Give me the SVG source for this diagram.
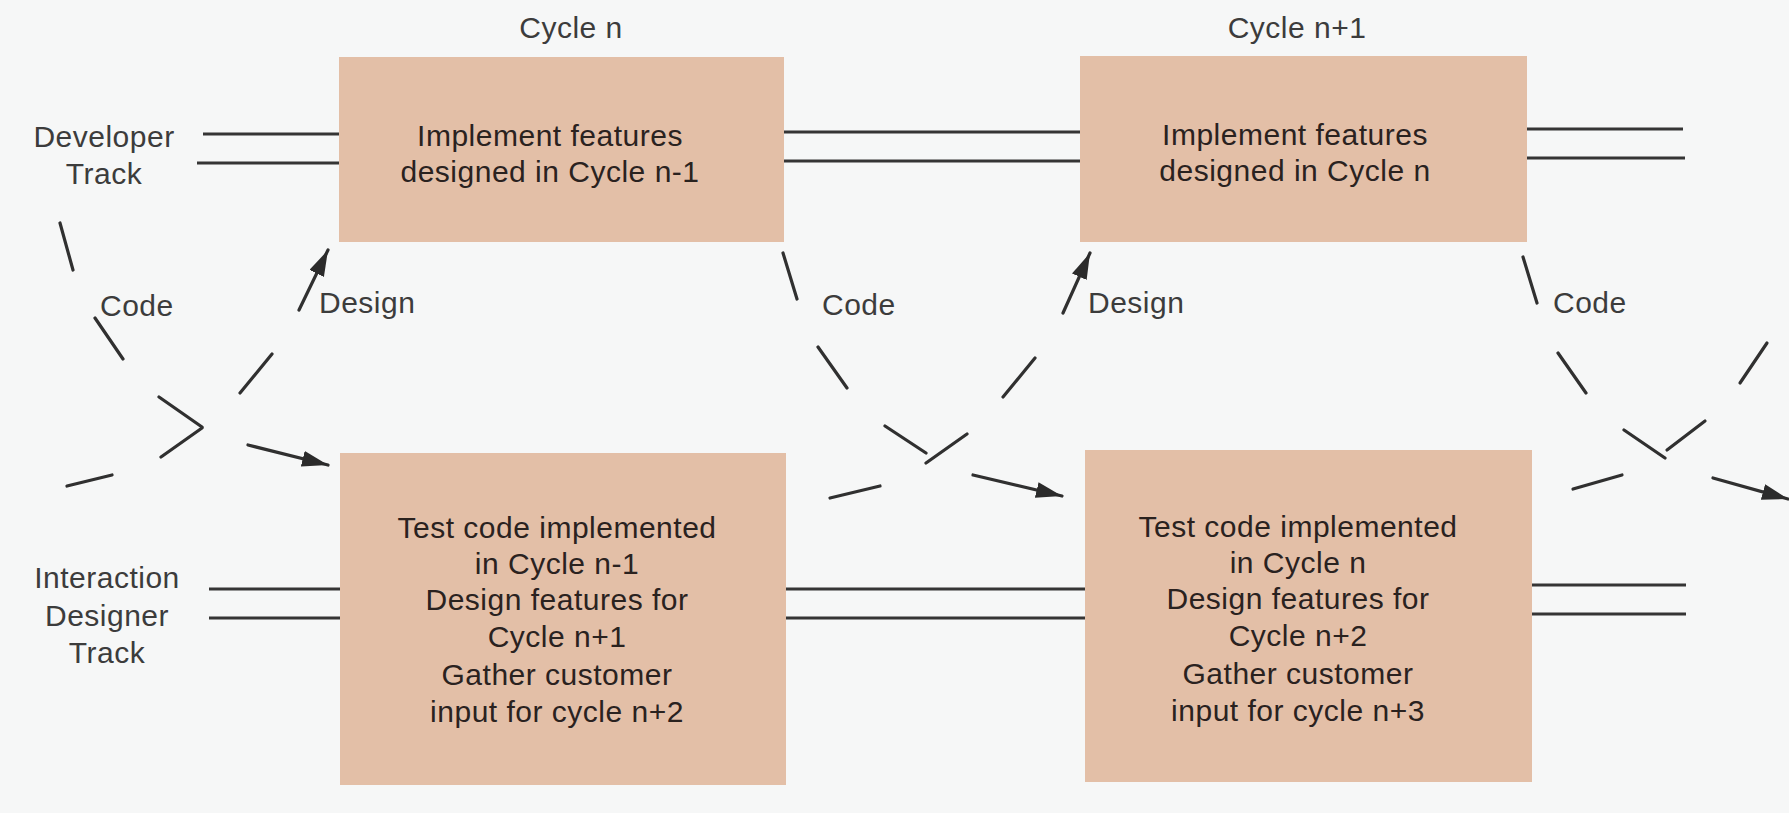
<svg xmlns="http://www.w3.org/2000/svg" width="1789" height="813" viewBox="0 0 1789 813">
<style>
.t{font-family:"Liberation Sans",Arial,sans-serif;font-size:30px;letter-spacing:0.5px;fill:#3c3c3c}
.bt{font-family:"Liberation Sans",Arial,sans-serif;font-size:30px;letter-spacing:0.5px;fill:#2a221f;text-anchor:middle}
.c{text-anchor:middle}
.box{fill:#e3bfa7}
.track{stroke:#353535;stroke-width:3;fill:none}
.dash{stroke:#303030;stroke-width:3.2;fill:none;stroke-linecap:round}
</style>
<defs>
<marker id="ah" markerUnits="userSpaceOnUse" markerWidth="28" markerHeight="18" refX="26" refY="8" orient="auto">
<path d="M0,0 L26,8 L0,16 z" fill="#2b2b2b"/>
</marker>
</defs>
<rect width="1789" height="813" fill="#f6f7f7"/>

<g id="labels">
<text class="t c" x="571" y="38">Cycle n</text>
<text class="t c" x="1297" y="38">Cycle n+1</text>
<text class="t c" x="104" y="147">Developer</text>
<text class="t c" x="104" y="184">Track</text>
<text class="t c" x="107" y="588">Interaction</text>
<text class="t c" x="107" y="626">Designer</text>
<text class="t c" x="107" y="663">Track</text>
<text class="t" x="100" y="316">Code</text>
<text class="t" x="319" y="313">Design</text>
<text class="t" x="822" y="315">Code</text>
<text class="t" x="1088" y="313">Design</text>
<text class="t" x="1553" y="313">Code</text>
</g>

<g id="tracks">
<path class="track" d="M203,134 H339 M197,163 H339 M784,132 H1080 M784,161 H1080 M1527,129 H1683 M1527,158 H1685"/>
<path class="track" d="M209,589 H340 M209,618 H340 M786,589 H1085 M786,618 H1085 M1532,585 H1686 M1532,614 H1686"/>
</g>

<g id="box1">
<rect class="box" x="339" y="57" width="445" height="185"/>
<text class="bt" x="550" y="146">Implement features</text>
<text class="bt" x="550" y="182">designed in Cycle n-1</text>
</g>
<g id="box2">
<rect class="box" x="1080" y="56" width="447" height="186"/>
<text class="bt" x="1295" y="145">Implement features</text>
<text class="bt" x="1295" y="181">designed in Cycle n</text>
</g>
<g id="box3">
<rect class="box" x="340" y="453" width="446" height="332"/>
<text class="bt" x="557" y="538">Test code implemented</text>
<text class="bt" x="557" y="574">in Cycle n-1</text>
<text class="bt" x="557" y="610">Design features for</text>
<text class="bt" x="557" y="647">Cycle n+1</text>
<text class="bt" x="557" y="685">Gather customer</text>
<text class="bt" x="557" y="722">input for cycle n+2</text>
</g>
<g id="box4">
<rect class="box" x="1085" y="450" width="447" height="332"/>
<text class="bt" x="1298" y="537">Test code implemented</text>
<text class="bt" x="1298" y="573">in Cycle n</text>
<text class="bt" x="1298" y="609">Design features for</text>
<text class="bt" x="1298" y="646">Cycle n+2</text>
<text class="bt" x="1298" y="684">Gather customer</text>
<text class="bt" x="1298" y="721">input for cycle n+3</text>
</g>

<g id="connectors">
<path id="code1" class="dash" marker-end="url(#ah)" d="M60,223 L73,270 M95,318 L123,359 M159,397 L202,427 M248,445 L328,465"/>
<path id="design1" class="dash" marker-end="url(#ah)" d="M67,486 L112,475 M161,457 L202,428 M240,393 L272,354 M299,310 L328,250"/>
<path id="code2" class="dash" marker-end="url(#ah)" d="M783,253 L797,299 M818,347 L847,388 M885,426 L926,453 M973,475 L1062,496"/>
<path id="design2" class="dash" marker-end="url(#ah)" d="M830,498 L880,486 M926,463 L967,434 M1003,397 L1035,358 M1063,313 L1090,253"/>
<path id="code3" class="dash" marker-end="url(#ah)" d="M1523,257 L1537,303 M1558,353 L1586,393 M1624,430 L1665,458 M1713,478 L1788,499"/>
<path id="design3" class="dash" d="M1573,489 L1622,475 M1667,450 L1705,421 M1740,383 L1767,343"/>
</g>
</svg>
